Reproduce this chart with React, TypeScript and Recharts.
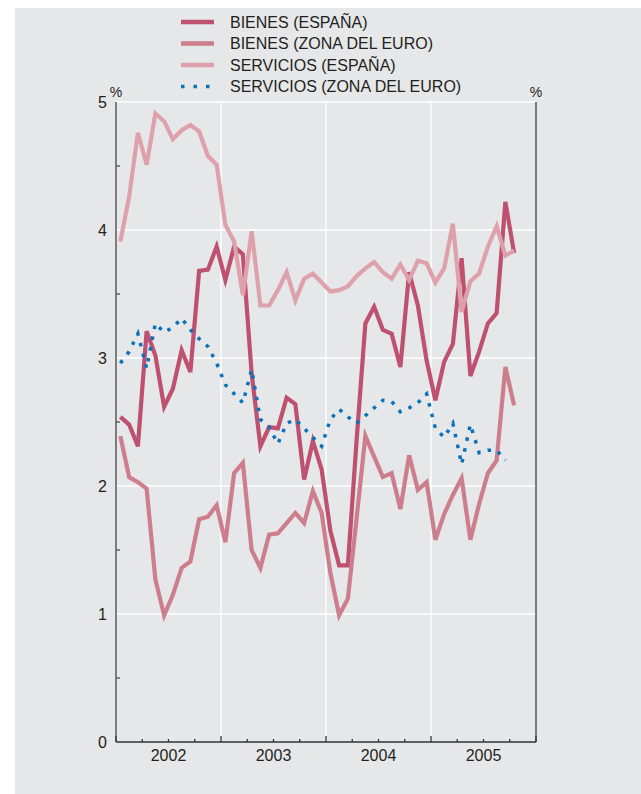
import { LineChart, Line, XAxis, YAxis, CartesianGrid } from 'recharts'

const FONT = '"Liberation Sans", Arial, Helvetica, sans-serif'
const INK = '#231f20'

const years = ['2002', '2003', '2004', '2005']

// monthly values, Jan 2002 onwards (%)
const bienesEspana = [
  2.54, 2.48, 2.31, 3.21, 3.02, 2.62, 2.76, 3.06, 2.89, 3.68, 3.69, 3.87,
  3.61, 3.87, 3.81, 2.88, 2.31, 2.46, 2.45, 2.69, 2.64, 2.05, 2.35, 2.13,
  1.65, 1.38, 1.38, 2.36, 3.27, 3.40, 3.22, 3.19, 2.93, 3.67, 3.41, 2.98,
  2.67, 2.97, 3.11, 3.78, 2.86, 3.05, 3.27, 3.35, 4.22, 3.82,
]
const bienesZonaEuro = [
  2.39, 2.07, 2.03, 1.98, 1.27, 0.99, 1.15, 1.36, 1.41, 1.74, 1.76, 1.85,
  1.56, 2.10, 2.18, 1.50, 1.36, 1.62, 1.63, 1.71, 1.79, 1.71, 1.96, 1.79,
  1.32, 0.99, 1.12, 1.75, 2.39, 2.23, 2.07, 2.10, 1.82, 2.24, 1.97, 2.03,
  1.58, 1.78, 1.93, 2.06, 1.58, 1.86, 2.10, 2.20, 2.93, 2.63,
]
const serviciosEspana = [
  3.91, 4.26, 4.76, 4.51, 4.91, 4.85, 4.71, 4.78, 4.82, 4.77, 4.58, 4.51,
  4.04, 3.91, 3.49, 3.99, 3.41, 3.41, 3.53, 3.67, 3.45, 3.62, 3.66, 3.59,
  3.52, 3.53, 3.56, 3.64, 3.70, 3.75, 3.67, 3.62, 3.73, 3.61, 3.76, 3.74,
  3.59, 3.70, 4.05, 3.36, 3.60, 3.66, 3.87, 4.03, 3.80, 3.84,
]
const serviciosZonaEuro = [
  2.96, 3.05, 3.19, 2.92, 3.27, 3.20, 3.24, 3.31, 3.22, 3.15, 3.09, 2.96,
  2.79, 2.72, 2.65, 2.91, 2.52, 2.46, 2.33, 2.49, 2.52, 2.45, 2.38, 2.31,
  2.52, 2.60, 2.54, 2.49, 2.55, 2.61, 2.67, 2.66, 2.58, 2.61, 2.65, 2.72,
  2.45, 2.38, 2.49, 2.17, 2.48, 2.26, 2.28, 2.28, 2.20,
]

const series = [
  { key: 'bienesEspana', name: 'BIENES (ESPAÑA)', color: '#bf5170', dash: undefined },
  { key: 'bienesZonaEuro', name: 'BIENES (ZONA DEL EURO)', color: '#cd7e8c', dash: undefined },
  { key: 'serviciosEspana', name: 'SERVICIOS (ESPAÑA)', color: '#dea1ab', dash: undefined },
  { key: 'serviciosZonaEuro', name: 'SERVICIOS (ZONA DEL EURO)', color: '#0b72b9', dash: '3.5 7.5' },
]

const data = bienesEspana.map((v, i) => ({
  t: i + 0.5,
  bienesEspana: v,
  bienesZonaEuro: bienesZonaEuro[i],
  serviciosEspana: serviciosEspana[i],
  serviciosZonaEuro: serviciosZonaEuro[i],
}))

const quarterTicks = Array.from({ length: 17 }, (_, i) => i * 3)
const yTicks = Array.from({ length: 11 }, (_, i) => i / 2)

// chart box inside the grey panel
const W = 626
const H = 786
const M = { top: 94, right: 0, bottom: 22, left: 0 }
const LEFT_W = 101
const RIGHT_W = 105

function MonthTick({ x, y, payload }: any) {
  const v = payload.value
  const major = v % 12 === 0
  return (
    <g>
      <line x1={x} x2={x} y1={y} y2={y - (major ? 6 : 3)} stroke="#333" strokeWidth={1.3} />
      {v % 12 === 6 && (
        <text x={x} y={y + 19} textAnchor="middle" fontSize={16} fill={INK} fontFamily={FONT}>
          {years[(v - 6) / 12]}
        </text>
      )}
    </g>
  )
}

function LeftTick({ x, y, payload }: any) {
  const v = payload.value
  const whole = Number.isInteger(v)
  return (
    <g>
      {!whole && <line x1={x} x2={x + 4} y1={y} y2={y} stroke="#444" strokeWidth={1.2} />}
      {whole && (
        <text x={x - 9} y={y} dy="0.36em" textAnchor="end" fontSize={16} fill={INK} fontFamily={FONT}>
          {v}
        </text>
      )}
    </g>
  )
}

function RightTick({ x, y, payload }: any) {
  const v = payload.value
  const whole = Number.isInteger(v)
  return (
    <g>
      <line x1={x - 4} x2={x} y1={y} y2={y} stroke="#444" strokeWidth={1.2} />
      {whole && (
        <text x={x + 9} y={y} dy="0.36em" textAnchor="start" fontSize={16} fill={INK} fontFamily={FONT}>
          {v}
        </text>
      )}
    </g>
  )
}

export default function App() {
  return (
    <div style={{ position: 'absolute', left: 15, top: 8, width: W, height: H, background: '#e6e7e9' }}>
      <svg width={W} height={100} style={{ position: 'absolute', left: 0, top: 0 }}>
        {series.map((s, i) => (
          <g key={s.key}>
            <line
              x1={166} x2={199} y1={14 + i * 21.5} y2={14 + i * 21.5}
              stroke={s.color} strokeWidth={s.dash ? 3.5 : 4.5} strokeDasharray={s.dash ? '3.5 9' : undefined}
            />
            <text x={215} y={14 + i * 21.5} dy="0.36em" fontSize={16} fill={INK} fontFamily={FONT}>
              {s.name}
            </text>
          </g>
        ))}
        <text x={M.left + LEFT_W} y={M.top - 5} textAnchor="middle" fontSize={14} fill={INK} fontFamily={FONT}>%</text>
        <text x={W - M.right - RIGHT_W} y={M.top - 5} textAnchor="middle" fontSize={14} fill={INK} fontFamily={FONT}>%</text>
      </svg>
      <div style={{ position: 'absolute', left: 0, top: 0 }}>
        <LineChart width={W} height={H} data={data} margin={M}>
          <CartesianGrid
            yAxisId="left"
            horizontalValues={[1, 2, 3, 4, 5]}
            verticalValues={[12, 24, 36]}
            stroke="#ffffff"
            strokeWidth={1.3}
          />
          <XAxis
            dataKey="t"
            type="number"
            domain={[0, 48]}
            ticks={quarterTicks}
            interval={0}
            tickSize={0}
            tickMargin={0}
            tick={<MonthTick />}
            height={30}
            axisLine={{ stroke: '#333', strokeWidth: 1.5 }}
          />
          <YAxis
            yAxisId="left"
            domain={[0, 5]}
            ticks={yTicks}
            interval={0}
            width={LEFT_W}
            tickSize={0}
            tickMargin={0}
            tick={<LeftTick />}
            axisLine={{ stroke: '#7d7d7d', strokeWidth: 2 }}
          />
          <YAxis
            yAxisId="right"
            orientation="right"
            domain={[0, 5]}
            ticks={yTicks}
            interval={0}
            width={RIGHT_W}
            tickSize={0}
            tickMargin={0}
            tick={<RightTick />}
            axisLine={{ stroke: '#555', strokeWidth: 1.5 }}
          />
          {series.map((s) => (
            <Line
              key={s.key}
              yAxisId="left"
              dataKey={s.key}
              type="linear"
              stroke={s.color}
              strokeWidth={s.dash ? 3.5 : 4.2}
              strokeDasharray={s.dash}
              strokeLinejoin="miter"
              dot={false}
              activeDot={false}
              isAnimationActive={false}
            />
          ))}
        </LineChart>
      </div>
    </div>
  )
}
